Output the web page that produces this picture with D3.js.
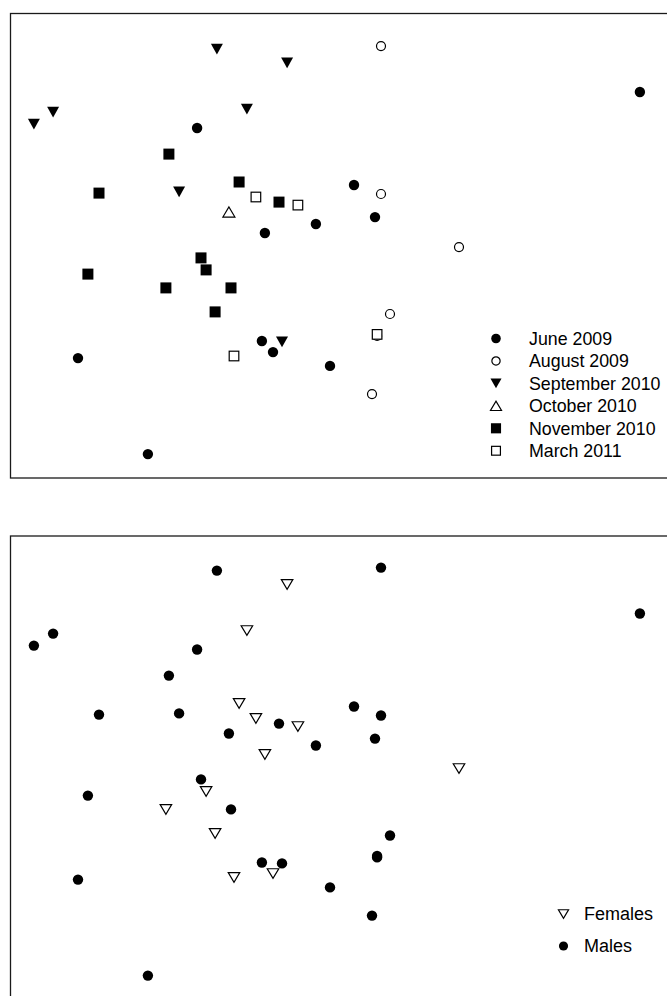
<!DOCTYPE html>
<html>
<head>
<meta charset="utf-8">
<script src="https://cdn.jsdelivr.net/npm/d3@7"></script>
<style>
  html, body { margin: 0; padding: 0; background: #fff; }
  svg { display: block; }
  text { font-family: "Liberation Sans", Arial, Helvetica, sans-serif; fill: #000; }
</style>
</head>
<body>
<svg id="chart" width="667" height="996"></svg>
<script>
// ordination scores of each sample (NMDS axis 1 and 2)
const nmds1 = [-0.377, -0.143, -0.923, -0.987, -0.277, -0.503, -0.160,
  -0.443, -0.217, -0.047, 0.080, 0.150, 1.033, -0.227, -0.190, -0.840, 0.000, -0.607,
  0.170, 0.170, 0.430, 0.200, 0.140, 0.157,
  -0.337,
  -0.537, -0.770, -0.303, -0.170, -0.430, -0.413, -0.807, -0.547, -0.330, -0.383,
  -0.247, -0.107, -0.320, 0.157];
const nmds2 = [0.653, 0.607, 0.443, 0.403, 0.453, 0.177, -0.323,
  0.390, 0.040, 0.070, 0.200, 0.093, 0.510, -0.320, -0.357, -0.377, -0.403, -0.697,
  0.663, 0.170, -0.007, -0.230, -0.497, -0.303,
  0.110,
  0.303, 0.173, 0.210, 0.143, -0.043, -0.083, -0.097, -0.143, -0.143, -0.223,
  0.160, 0.133, -0.370, -0.298];
const survey = ['Sep10', 'Sep10', 'Sep10', 'Sep10', 'Sep10', 'Sep10', 'Sep10',
  'Jun09', 'Jun09', 'Jun09', 'Jun09', 'Jun09', 'Jun09', 'Jun09', 'Jun09', 'Jun09', 'Jun09', 'Jun09',
  'Aug09', 'Aug09', 'Aug09', 'Aug09', 'Aug09', 'Aug09',
  'Oct10',
  'Nov10', 'Nov10', 'Nov10', 'Nov10', 'Nov10', 'Nov10', 'Nov10', 'Nov10', 'Nov10', 'Nov10',
  'Mar11', 'Mar11', 'Mar11', 'Mar11'];
const sex = ['M', 'F', 'M', 'M', 'F', 'M', 'M',
  'M', 'F', 'M', 'M', 'M', 'M', 'M', 'F', 'M', 'M', 'M',
  'M', 'M', 'F', 'M', 'M', 'M',
  'M',
  'M', 'M', 'F', 'M', 'M', 'F', 'M', 'F', 'M', 'F',
  'F', 'F', 'F', 'M'];

const surveyKeys = ['Jun09', 'Aug09', 'Sep10', 'Oct10', 'Nov10', 'Mar11'];
const surveyLabels = ['June 2009', 'August 2009', 'September 2010', 'October 2010', 'November 2010', 'March 2011'];
const sexKeys = ['F', 'M'];
const sexLabels = ['Females', 'Males'];

const samples = nmds1.map((v, i) => ({ x: v, y: nmds2[i], survey: survey[i], sex: sex[i] }));

const svg = d3.select('#chart');

// marker shapes (R pch look-alikes)
const shape = {
  dot:    (s) => ({ type: 'circle', r: s / 2, fill: '#000', stroke: 'none' }),
  ring:   (s) => ({ type: 'circle', r: s / 2, fill: '#fff', stroke: '#000' }),
  down:   (s) => ({ type: 'path', d: `M${-s / 2},${-s * 0.45}L${s / 2},${-s * 0.45}L0,${s * 0.45}Z`, fill: '#000', stroke: 'none' }),
  downO:  (s) => ({ type: 'path', d: `M${-s / 2},${-s * 0.42}L${s / 2},${-s * 0.42}L0,${s * 0.42}Z`, fill: '#fff', stroke: '#000' }),
  up:     (s) => ({ type: 'path', d: `M${-s / 2},${s * 0.42}L${s / 2},${s * 0.42}L0,${-s * 0.42}Z`, fill: '#fff', stroke: '#000' }),
  square: (s) => ({ type: 'rect', s: s, fill: '#000', stroke: 'none' }),
  box:    (s) => ({ type: 'rect', s: s, fill: '#fff', stroke: '#000' })
};
const surveyShape = { Jun09: ['dot', 10.4], Aug09: ['ring', 9], Sep10: ['down', 12], Oct10: ['up', 12], Nov10: ['square', 11], Mar11: ['box', 9.6] };
const sexShape = { F: ['downO', 11.5], M: ['dot', 10.4] };

function drawMarker(g, kind, size, cx, cy) {
  const m = shape[kind](size);
  let el;
  if (m.type === 'circle') {
    el = g.append('circle').attr('cx', cx).attr('cy', cy).attr('r', m.r);
  } else if (m.type === 'rect') {
    el = g.append('rect').attr('x', cx - m.s / 2).attr('y', cy - m.s / 2).attr('width', m.s).attr('height', m.s);
  } else {
    el = g.append('path').attr('d', m.d).attr('transform', `translate(${cx},${cy})`);
  }
  el.attr('fill', m.fill).attr('stroke', m.stroke).attr('stroke-width', 1.2);
}

const x = d3.scaleLinear().domain([-1, 1]).range([30, 630]);

function panel(top, bottom, yRange, markerOf, legendKeys, legendLabels, legendPos) {
  const y = d3.scaleLinear().domain([-1, 1]).range(yRange);
  const g = svg.append('g');

  g.append('rect')
    .attr('x', 10.5).attr('y', top)
    .attr('width', 700).attr('height', bottom - top)
    .attr('fill', 'none').attr('stroke', '#1a1a1a').attr('stroke-width', 1.3);

  const pts = g.append('g');
  samples.forEach(d => {
    const [kind, size] = markerOf(d);
    drawMarker(pts, kind, size, x(d.x), y(d.y));
  });

  const leg = g.append('g').attr('transform', `translate(${legendPos.x},${legendPos.y})`);
  legendKeys.forEach((k, i) => {
    const [kind, size] = legendPos.marker(k);
    const row = leg.append('g').attr('transform', `translate(0,${i * legendPos.step})`);
    drawMarker(row, kind, size * legendPos.scale, 0, 0);
    row.append('text')
      .attr('x', legendPos.textX)
      .attr('y', 0)
      .attr('dy', '0.36em')
      .style('font-size', legendPos.fontSize + 'px')
      .text(legendLabels[i]);
  });
}

// top: by sampling campaign
panel(13.5, 478, [545, -55], d => surveyShape[d.survey], surveyKeys, surveyLabels,
  { x: 496, y: 338.5, step: 22.45, textX: 33, fontSize: 17.8, scale: 0.92, marker: k => surveyShape[k] });

// bottom: by sex
panel(536, 1100, [1066.5, 466.5], d => sexShape[d.sex], sexKeys, sexLabels,
  { x: 563.5, y: 914, step: 32, textX: 20.5, fontSize: 18, scale: 0.88, marker: k => sexShape[k] });
</script>
</body>
</html>
